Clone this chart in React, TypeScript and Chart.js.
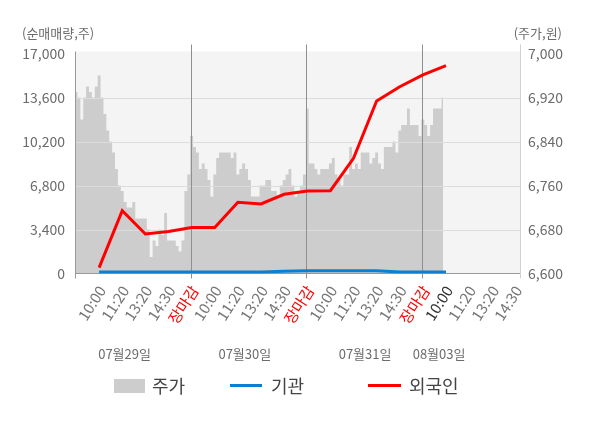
import { useEffect, useRef } from 'react';
import { Chart, registerables } from 'chart.js';

Chart.register(...registerables);

const FONT = "'Noto Sans CJK KR', 'Noto Sans', sans-serif";

// x ticks: 5 per trading day, last day only partly shown
const tickLabels = [
  '10:00', '11:20', '13:20', '14:30', '장마감',
  '10:00', '11:20', '13:20', '14:30', '장마감',
  '10:00', '11:20', '13:20', '14:30', '장마감',
  '10:00', '11:20', '13:20', '14:30',
];
const dayLabels = ['07월29일', '07월30일', '07월31일', '08월03일'];
const dayLabelPos = [2.1, 7.3, 12.5, 15.7];
const dayBreaks = [5, 10, 15];

// 주가 (원), 8 samples per tick interval
const day1Price = [
  6930, 6920, 6880, 6920, 6940, 6930, 6920, 6940, 6960, 6920,
  6890, 6860, 6840, 6820, 6790, 6760, 6750, 6730, 6720, 6720,
  6730, 6700, 6700, 6700, 6700, 6680, 6630, 6660, 6650, 6680,
  6670, 6710, 6660, 6660, 6660, 6650, 6640, 6660, 6750, 6780,
];
const day2Price = [
  6850, 6830, 6820, 6790, 6800, 6790, 6770, 6740, 6780, 6810,
  6820, 6820, 6820, 6820, 6810, 6820, 6780, 6790, 6800, 6790,
  6770, 6740, 6740, 6740, 6760, 6760, 6770, 6770, 6750, 6750,
  6740, 6760, 6770, 6780, 6790, 6760, 6740, 6750, 6760, 6780,
];
const day3Price = [
  6900, 6800, 6800, 6790, 6780, 6790, 6790, 6790, 6800, 6810,
  6780, 6770, 6760, 6780, 6780, 6830, 6790, 6800, 6790, 6820,
  6820, 6820, 6800, 6810, 6820, 6800, 6790, 6830, 6830, 6830,
  6840, 6820, 6860, 6870, 6870, 6900, 6870, 6870, 6870, 6850,
];
const day4Price = [6880, 6870, 6850, 6870, 6900, 6900, 6900, 6920];
const samplesPerTick = 8;

// 순매매량 (주), one value per tick
const foreignNet = [
  450, 4850, 3050, 3250, 3550,
  3560, 5500, 5370, 6120, 6380,
  6400, 8900, 13330, 14430, 15340,
  16060,
];
const institutionNet = [
  120, 120, 120, 120, 120,
  120, 120, 120, 180, 210,
  215, 215, 215, 120, 120,
  120,
];

const tickColors = tickLabels.map((l, i) =>
  l === '장마감' ? '#ff0000' : i === 15 ? '#333333' : '#777777'
);

const decor = {
  id: 'decor',
  beforeDraw(chart: any) {
    const { ctx, chartArea: a } = chart;
    ctx.save();
    ctx.fillStyle = '#f4f4f4';
    ctx.fillRect(a.left, a.top - 2, a.right - a.left, a.bottom - a.top + 2);
    ctx.restore();
  },
  afterDatasetDraw(chart: any, args: any) {
    if (args.index !== 2) return;
    const { ctx, chartArea: a, scales } = chart;
    const line = (x1: number, y1: number, x2: number, y2: number) => {
      ctx.beginPath();
      ctx.moveTo(x1, y1);
      ctx.lineTo(x2, y2);
      ctx.stroke();
    };
    ctx.save();
    ctx.lineWidth = 1;
    ctx.strokeStyle = '#dcdcdc';
    scales.y.ticks.forEach((t: any) => {
      if (t.value <= 0 || t.value >= 17000) return;
      const y = Math.round(scales.y.getPixelForValue(t.value)) + 0.5;
      line(a.left, y, a.right, y);
    });
    ctx.strokeStyle = '#8f8f8f';
    dayBreaks.forEach((v) => {
      const x = Math.round(scales.x.getPixelForValue(v)) - 0.5;
      line(x, a.top - 9, x, a.bottom + 5);
    });
    ctx.strokeStyle = '#d0d0d0';
    line(a.right + 0.5, a.top - 9, a.right + 0.5, a.bottom + 5);
    ctx.strokeStyle = '#999999';
    line(a.left - 0.5, a.top - 2, a.left - 0.5, a.bottom + 5);
    const yb = Math.round(a.bottom) - 0.5;
    line(a.left, yb, a.right, yb);
    ctx.restore();
  },
  afterDraw(chart: any) {
    const { ctx, scales } = chart;
    ctx.save();
    ctx.fillStyle = '#6b6b6b';
    ctx.font = `13px ${FONT}`;
    ctx.textBaseline = 'middle';
    ctx.textAlign = 'left';
    ctx.fillText('(순매매량,주)', 22, 33);
    ctx.textAlign = 'right';
    ctx.fillText('(주가,원)', 562, 33);
    ctx.textAlign = 'center';
    dayLabels.forEach((d, i) => {
      ctx.fillText(d, scales.x.getPixelForValue(dayLabelPos[i]), 354);
    });

    // legend
    ctx.font = `18px ${FONT}`;
    ctx.textAlign = 'left';
    ctx.fillStyle = '#cdcdcd';
    ctx.fillRect(114, 379, 31, 14);
    ctx.lineWidth = 3;
    ctx.strokeStyle = '#0a80d2';
    ctx.beginPath();
    ctx.moveTo(230, 385.5);
    ctx.lineTo(262, 385.5);
    ctx.stroke();
    ctx.strokeStyle = '#ff0000';
    ctx.beginPath();
    ctx.moveTo(368, 385.5);
    ctx.lineTo(401, 385.5);
    ctx.stroke();
    ctx.fillStyle = '#444444';
    ctx.fillText('주가', 152, 386);
    ctx.fillText('기관', 271, 386);
    ctx.fillText('외국인', 409, 386);
    ctx.restore();
  },
};

export default function App() {
  const canvasRef = useRef<HTMLCanvasElement>(null);
  const chartRef = useRef<Chart | null>(null);

  useEffect(() => {
    if (!canvasRef.current) return;
    chartRef.current?.destroy();

    const price = [...day1Price, ...day2Price, ...day3Price, ...day4Price];

    chartRef.current = new Chart(canvasRef.current, {
      type: 'line',
      data: {
        datasets: [
          {
            label: '외국인',
            data: foreignNet.map((v, i) => ({ x: i + 1, y: v })),
            yAxisID: 'y',
            borderColor: '#ff0000',
            borderWidth: 3,
            pointRadius: 0,
            fill: false,
          },
          {
            label: '기관',
            data: institutionNet.map((v, i) => ({ x: i + 1, y: v })),
            yAxisID: 'y',
            borderColor: '#0a80d2',
            borderWidth: 3,
            pointRadius: 0,
            fill: false,
          },
          {
            label: '주가',
            data: price.map((p, i) => ({ x: i / samplesPerTick, y: p })),
            yAxisID: 'y1',
            stepped: 'middle',
            fill: 'start',
            backgroundColor: '#cdcdcd',
            borderWidth: 0,
            pointRadius: 0,
          },
        ],
      },
      options: {
        responsive: true,
        maintainAspectRatio: false,
        animation: false,
        layout: { padding: { top: 53.5, left: 0, right: 0, bottom: 0 } },
        plugins: {
          legend: { display: false },
          tooltip: { enabled: false },
        },
        scales: {
          x: {
            type: 'linear',
            min: 0,
            max: 19.2,
            grid: { display: false, drawTicks: false },
            border: { display: false },
            afterBuildTicks: (axis: any) => {
              axis.ticks = tickLabels.map((_, i) => ({ value: i + 1 }));
            },
            afterFit: (axis: any) => {
              axis.height = 428 - 273.5;
            },
            ticks: {
              autoSkip: false,
              minRotation: 57,
              maxRotation: 57,
              padding: 9,
              labelOffset: 3,
              font: { family: FONT, size: 15 },
              color: (c: any) => tickColors[c.index] || '#777777',
              callback: (_v: any, i: number) => tickLabels[i],
            },
          },
          y: {
            position: 'left',
            min: 0,
            max: 17000,
            grid: { display: false, drawTicks: false },
            border: { display: false },
            afterFit: (axis: any) => {
              axis.width = 76;
            },
            ticks: {
              stepSize: 3400,
              padding: 11,
              font: { family: FONT, size: 14 },
              color: '#6b6b6b',
              callback: (v: any) => Number(v).toLocaleString('en-US'),
            },
          },
          y1: {
            position: 'right',
            min: 6600,
            max: 7000,
            grid: { display: false, drawTicks: false },
            border: { display: false },
            afterFit: (axis: any) => {
              axis.width = 80;
            },
            ticks: {
              stepSize: 80,
              padding: 8,
              font: { family: FONT, size: 14 },
              color: '#6b6b6b',
              callback: (v: any) => Number(v).toLocaleString('en-US'),
            },
          },
        },
      },
      plugins: [decor],
    });

    return () => {
      chartRef.current?.destroy();
      chartRef.current = null;
    };
  }, []);

  return (
    <div style={{ position: 'absolute', left: 0, top: 0, width: 600, height: 428, background: '#fff' }}>
      <canvas ref={canvasRef} />
    </div>
  );
}
